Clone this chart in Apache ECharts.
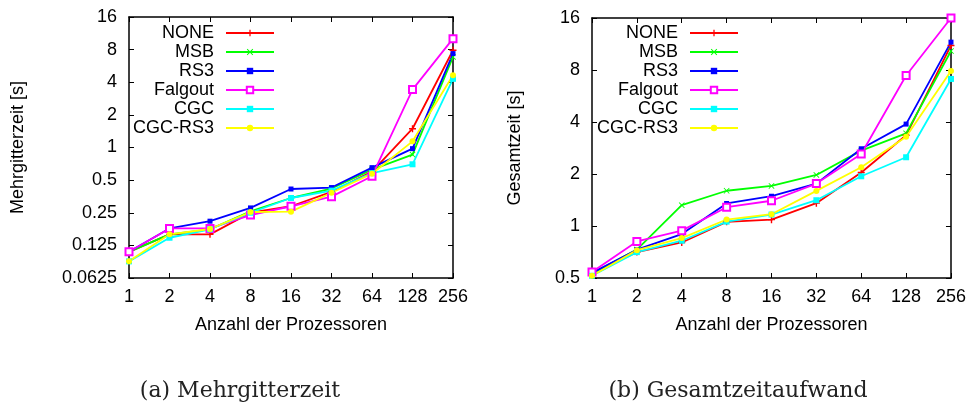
<!DOCTYPE html>
<html>
<head>
<meta charset="utf-8">
<script src="https://cdn.jsdelivr.net/npm/echarts@6/dist/echarts.min.js"></script>
<style>
  html, body { margin: 0; padding: 0; background: #fff; }
  #chart { width: 969px; height: 409px; }
</style>
</head>
<body>
<div id="chart"></div>
<script>
// x categories: number of processors
const procs = ['1', '2', '4', '8', '16', '32', '64', '128', '256']
const names = ['NONE', 'MSB', 'RS3', 'Falgout', 'CGC', 'CGC-RS3']

// (a) Mehrgitterzeit [s]
const mgNone = [0.109, 0.158, 0.158, 0.25, 0.287, 0.39, 0.6, 1.49, 7.9]
const mgMsb = [0.109, 0.158, 0.176, 0.258, 0.342, 0.418, 0.625, 0.86, 6.85]
const mgRs3 = [0.109, 0.179, 0.209, 0.277, 0.414, 0.427, 0.652, 0.976, 7.35]
const mgFalgout = [0.109, 0.179, 0.179, 0.238, 0.287, 0.352, 0.543, 3.42, 10.1]
const mgCgc = [0.089, 0.147, 0.176, 0.25, 0.342, 0.40, 0.58, 0.70, 4.3]
const mgCgcRs3 = [0.089, 0.158, 0.177, 0.254, 0.256, 0.382, 0.573, 1.14, 4.64]

// (b) Gesamtzeit [s]
const gzNone = [0.535, 0.706, 0.803, 1.057, 1.088, 1.356, 2.04, 3.35, 11.1]
const gzMsb = [0.53, 0.73, 1.32, 1.60, 1.706, 1.975, 2.73, 3.44, 10.3]
const gzRs3 = [0.535, 0.729, 0.898, 1.35, 1.487, 1.76, 2.80, 3.89, 11.6]
const gzFalgout = [0.542, 0.814, 0.94, 1.285, 1.40, 1.76, 2.61, 7.44, 16]
const gzCgc = [0.515, 0.706, 0.822, 1.06, 1.165, 1.41, 1.94, 2.50, 7.1]
const gzCgcRs3 = [0.515, 0.725, 0.851, 1.09, 1.17, 1.597, 2.19, 3.29, 7.9]

const colors = ['#ff0000', '#00ff00', '#0000ff', '#ff00ff', '#00ffff', '#ffff00']
const symbols = [
  'path://M4,0H6V4H10V6H6V10H4V6H0V4H4Z',
  'path://M1,0L5,4L9,0L10,1L6,5L10,9L9,10L5,6L1,10L0,9L4,5L0,1Z',
  'rect',
  'emptyRect',
  'rect',
  'circle'
]
const symbolSizes = [7, 6, 5, 7, 6, 6]

const font = 'Liberation Sans, Arial, sans-serif'
const mgData = [mgNone, mgMsb, mgRs3, mgFalgout, mgCgc, mgCgcRs3]
const gzData = [gzNone, gzMsb, gzRs3, gzFalgout, gzCgc, gzCgcRs3]

const chart = echarts.init(document.getElementById('chart'))

const axisLine = { show: true, lineStyle: { color: '#000', width: 1.5 } }
const tick = { show: true, inside: true, length: 5, lineStyle: { color: '#000', width: 1 } }
const label = { color: '#000', fontSize: 18, fontFamily: font }

const xBottom = (gridIndex) => ({
  type: 'category', gridIndex, data: procs, boundaryGap: false,
  axisLine, axisTick: tick, splitLine: { show: false },
  axisLabel: { ...label, margin: 10 },
  name: 'Anzahl der Prozessoren', nameLocation: 'middle', nameGap: 38,
  nameTextStyle: { ...label }
})
const xTop = (gridIndex) => ({
  type: 'category', gridIndex, data: procs, boundaryGap: false, position: 'top',
  axisLine, axisTick: tick, axisLabel: { show: false }, splitLine: { show: false }
})
const yLeft = (gridIndex, min, max, name, gap) => ({
  type: 'log', logBase: 2, gridIndex, min, max, interval: 1,
  axisLine, axisTick: tick, splitLine: { show: false }, minorTick: { show: false },
  axisLabel: { ...label, margin: 12, formatter: (v) => String(+v.toPrecision(6)) },
  name, nameLocation: 'middle', nameGap: gap, nameRotate: 90,
  nameTextStyle: { ...label }
})
const yRight = (gridIndex, min, max) => ({
  type: 'log', logBase: 2, gridIndex, min, max, interval: 1, position: 'right',
  axisLine, axisTick: tick, splitLine: { show: false }, axisLabel: { show: false }
})

const makeSeries = (data, xi, yi) => data.map((d, i) => ({
  name: names[i],
  type: 'line',
  xAxisIndex: xi,
  yAxisIndex: yi,
  data: d,
  symbol: symbols[i],
  symbolSize: symbolSizes[i],
  showAllSymbol: true,
  color: colors[i],
  lineStyle: { width: 1.8, color: colors[i] },
  itemStyle: { color: colors[i] },
  emphasis: { disabled: true },
  animation: false
}))

const legend = (right) => ({
  orient: 'vertical',
  align: 'right',
  right,
  top: 19,
  itemWidth: 48,
  itemHeight: 8,
  itemGap: 1,
  data: names,
  selectedMode: false,
  textStyle: { ...label, padding: [0, 7, 0, 0] }
})

const captionFont = '22px "DejaVu Serif", serif'

chart.setOption({
  animation: false,
  backgroundColor: '#fff',
  legend: [legend(689), legend(225)],
  grid: [
    { left: 129, right: 516, top: 17, bottom: 131 },
    { left: 592, right: 18, top: 18, bottom: 131 }
  ],
  xAxis: [xBottom(0), xTop(0), xBottom(1), xTop(1)],
  yAxis: [
    yLeft(0, 0.0625, 16, 'Mehrgitterzeit [s]', 102),
    yRight(0, 0.0625, 16),
    yLeft(1, 0.5, 16, 'Gesamtzeit [s]', 68),
    yRight(1, 0.5, 16)
  ],
  series: [...makeSeries(mgData, 0, 0), ...makeSeries(gzData, 2, 2)],
  graphic: [
    { type: 'text', x: 240, y: 391, style: { text: '(a) Mehrgitterzeit', fill: '#222', font: captionFont, align: 'center', verticalAlign: 'middle' } },
    { type: 'text', x: 738, y: 391, style: { text: '(b) Gesamtzeitaufwand', fill: '#222', font: captionFont, align: 'center', verticalAlign: 'middle' } }
  ]
})
</script>
</body>
</html>
